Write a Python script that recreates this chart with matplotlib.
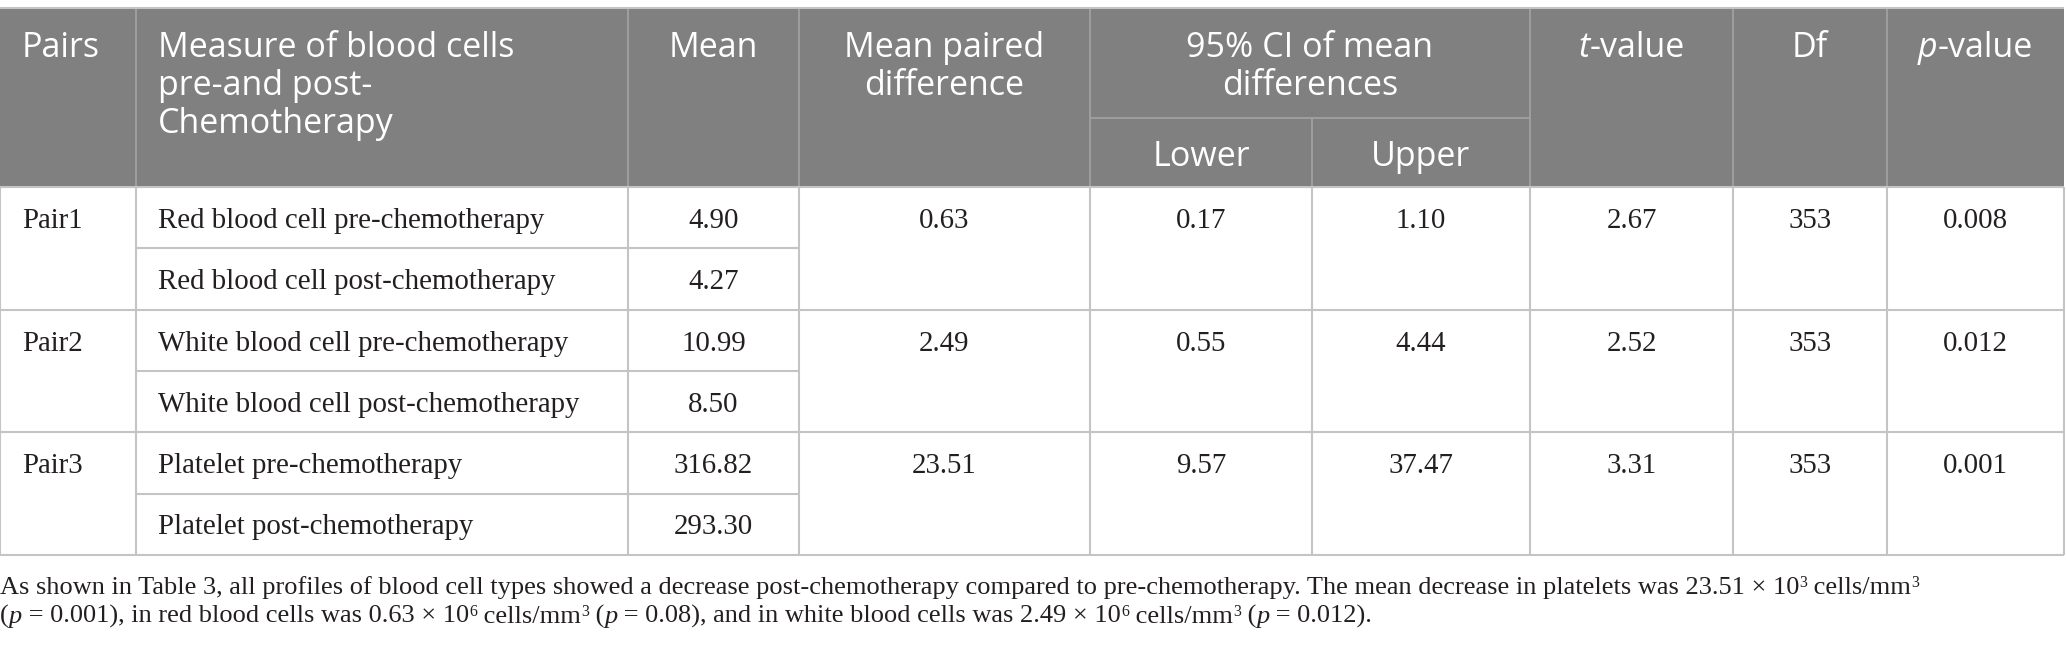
import re
import matplotlib
matplotlib.use("Agg")
import matplotlib.pyplot as plt
from matplotlib.patches import Rectangle

# table data
pairs = ["Pair1", "Pair2", "Pair3"]
measures = [
    ("Red blood cell pre-chemotherapy", "Red blood cell post-chemotherapy"),
    ("White blood cell pre-chemotherapy", "White blood cell post-chemotherapy"),
    ("Platelet pre-chemotherapy", "Platelet post-chemotherapy"),
]
means = [("4.90", "4.27"), ("10.99", "8.50"), ("316.82", "293.30")]
mean_diff = ["0.63", "2.49", "23.51"]
ci_lower = ["0.17", "0.55", "9.57"]
ci_upper = ["1.10", "4.44", "37.47"]
t_values = ["2.67", "2.52", "3.31"]
dfs = ["353", "353", "353"]
p_values = ["0.008", "0.012", "0.001"]

# *x* = italic, ^n = superscript
caption = [
    "As shown in Table 3, all profiles of blood cell types showed a decrease post-chemotherapy "
    "compared to pre-chemotherapy. The mean decrease in platelets was 23.51 \u00d7 10^3 cells/mm^3",
    "(*p* = 0.001), in red blood cells was 0.63 \u00d7 10^6 cells/mm^3 (*p* = 0.08), "
    "and in white blood cells was 2.49 \u00d7 10^6 cells/mm^3 (*p* = 0.012).",
]

W, H = 2066, 649
fig = plt.figure(figsize=(W / 100, H / 100), dpi=100)
ax = fig.add_axes([0, 0, 1, 1])
ax.set_xlim(0, W)
ax.set_ylim(H, 0)
ax.axis('off')
renderer = fig.canvas.get_renderer()

# layout (pixels)
cols = [0, 136, 628, 799, 1090, 1312, 1530, 1733, 1887, 2064]
top, sub, head_bot = 8, 118, 187
row_h = 61.3
HEAD_BG = '#7f807f'
HEAD_LINE = '#a3a4a3'
GRID = '#c4c4c4'
INK = '#231f20'
hfont = dict(family='Open Sans', size=24.5, color='white')
bfont = dict(family='Liberation Serif', size=20.8, color=INK)
cfont = dict(family='Liberation Serif', size=19, color=INK)

# header background and separators
ax.add_patch(Rectangle((cols[0], top), cols[-1] - cols[0], head_bot - top,
                       facecolor=HEAD_BG, edgecolor='none'))
head_cols = [c for c in cols[1:-1] if c != cols[5]]
ax.vlines(head_cols, top, head_bot, color=HEAD_LINE, lw=1.2)
ax.vlines(cols[5], sub, head_bot, color=HEAD_LINE, lw=1.2)
ax.hlines(sub, cols[4], cols[6], color=HEAD_LINE, lw=1.2)
ax.hlines(top, cols[0], cols[-1], color=GRID, lw=1.5)


def center(i, j=None):
    j = i + 1 if j is None else j
    return (cols[i] + cols[j]) / 2


def lines(x, ys, texts, ha, font):
    for y, s in zip(ys, texts):
        ax.text(x, y, s, va='baseline', ha=ha, **font)


def advance(s, font, style='normal', size=None):
    # width incl. spaces: measure "|s|" minus "||"
    kw = dict(font, style=style)
    if size:
        kw['size'] = size
    a = ax.text(0, 0, '|' + s + '|', **kw)
    b = ax.text(0, 0, '||', **kw)
    w = a.get_window_extent(renderer).width - b.get_window_extent(renderer).width
    a.remove()
    b.remove()
    return w


def rich(x, y, s, font, ha='left'):
    parts = [p for p in re.split(r'(\*[^*]+\*|\^\d)', s) if p]
    pieces = []
    for p in parts:
        if p.startswith('*'):
            pieces.append((p[1:-1], 'italic', font['size'], 0))
        elif p.startswith('^'):
            pieces.append((p[1:], 'normal', font['size'] * 0.6, -7))
        else:
            pieces.append((p, 'normal', font['size'], 0))
    widths = [advance(t, font, st, sz) for t, st, sz, _ in pieces]
    x0 = x - sum(widths) / 2 if ha == 'center' else x
    for (t, st, sz, dy), w in zip(pieces, widths):
        ax.text(x0, y + dy, t, va='baseline', ha='left', **dict(font, style=st, size=sz))
        x0 += w


hb = [57, 95, 133]
ax.text(22, hb[0], "Pairs", va='baseline', ha='left', **hfont)
lines(158, hb, ["Measure of blood cells", "pre-and post-", "Chemotherapy"], 'left', hfont)
ax.text(center(2), hb[0], "Mean", va='baseline', ha='center', **hfont)
lines(center(3), hb[:2], ["Mean paired", "difference"], 'center', hfont)
lines(center(4, 6), hb[:2], ["95% CI of mean", "differences"], 'center', hfont)
ax.text(center(4), 166, "Lower", va='baseline', ha='center', **hfont)
ax.text(center(5), 166, "Upper", va='baseline', ha='center', **hfont)
rich(center(6), hb[0], "*t*-value", hfont, ha='center')
ax.text(center(7), hb[0], "Df", va='baseline', ha='center', **hfont)
rich(center(8), hb[0], "*p*-value", hfont, ha='center')

# body
for k in range(len(pairs)):
    y0 = head_bot + 2 * k * row_h
    y1 = y0 + row_h
    y2 = y0 + 2 * row_h
    base = y0 + 41
    ax.text(22, base, pairs[k], va='baseline', ha='left', **bfont)
    for j in range(2):
        bj = base + j * row_h
        ax.text(158, bj, measures[k][j], va='baseline', ha='left', **bfont)
        ax.text(center(2), bj, means[k][j], va='baseline', ha='center', **bfont)
    for ci, vals in zip(range(3, 9), [mean_diff, ci_lower, ci_upper, t_values, dfs, p_values]):
        ax.text(center(ci), base, vals[k], va='baseline', ha='center', **bfont)
    ax.hlines(y1, cols[1], cols[3], color=GRID, lw=1.5)
    ax.hlines(y2, cols[0], cols[-1], color=GRID, lw=1.5)

body_bot = head_bot + 6 * row_h
ax.vlines(cols, head_bot, body_bot, color=GRID, lw=1.5)
ax.hlines(head_bot, cols[0], cols[-1], color=GRID, lw=1.5)

# caption below the table
rich(0, 594, caption[0], cfont)
rich(0, 623, caption[1], cfont)

fig.savefig("out.png", dpi=100)
